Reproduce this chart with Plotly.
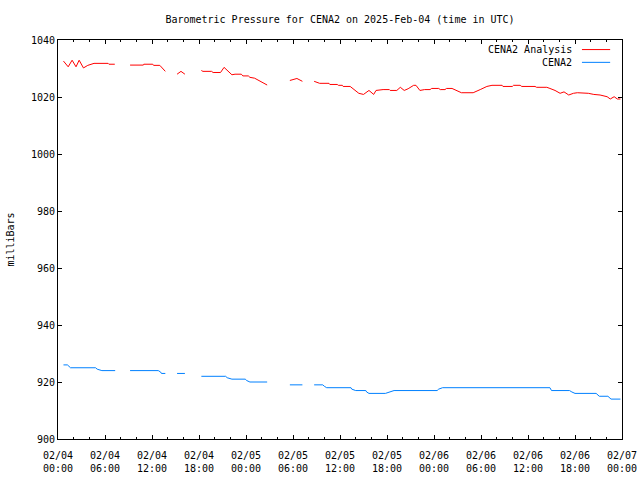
import plotly.graph_objects as go
import pandas as pd

# Hours after 2025-02-04 00:00 UTC; None in values breaks the line (missing data)
analysis_hours = [0.7, 1.3, 1.8, 2.3, 2.7, 3.25, 3.8, 4.5, 4.6, 6.4, 6.5, 7.25, 8.2,
                  9.2, 10.9, 10.95, 12.1, 12.2, 13.0, 13.7, 14.4,
                  15.2, 15.7, 16.2, 17.2,
                  18.3, 18.5, 19.6, 19.8, 20.75, 21.2, 22.2, 22.6, 23.4, 23.6, 24.3, 24.5, 25.1, 26.7, 28.0,
                  29.6, 30.5, 31.2, 32.0,
                  32.7, 33.0, 33.4, 34.6, 34.7, 35.65, 35.8, 36.3, 36.4, 37.3, 38.4, 39.0, 39.7, 40.3, 40.6,
                  41.5, 42.3, 42.4, 43.25, 43.7, 44.2, 44.7, 45.4, 45.7, 46.2, 46.8, 47.5, 47.7, 48.6, 48.8,
                  49.4, 49.6, 50.3, 51.5, 53.0, 53.9, 54.75, 55.4, 56.7, 56.8, 58.0, 58.15, 59.0, 59.2, 60.9,
                  61.1, 62.4, 62.8, 63.45, 64.1, 64.6, 65.2, 65.8, 66.3, 67.1, 67.7, 68.4, 69.2, 70.1, 70.5,
                  71.0, 71.4, 71.8]
analysis_values = [1032.6, 1030.6, 1032.9, 1030.6, 1032.9, 1030.2, 1031.1, 1031.6, 1031.8, 1031.8, 1031.5, 1031.5, None,
                   1031.2, 1031.2, 1031.5, 1031.5, 1031.1, 1031.1, 1029.0, None,
                   1028.0, 1029.0, 1028.0, None,
                   1029.3, 1029.0, 1029.0, 1028.6, 1028.6, 1030.4, 1027.8, 1028.0, 1028.0, 1027.4, 1027.4, 1026.9, 1026.6, 1024.2, None,
                   1025.8, 1026.5, 1025.5, None,
                   1025.5, 1025.1, 1024.8, 1024.8, 1024.4, 1024.4, 1024.1, 1024.1, 1023.7, 1023.7, 1021.3, 1020.9, 1022.3, 1020.9, 1022.3,
                   1022.6, 1022.6, 1022.3, 1022.3, 1023.4, 1022.3, 1022.9, 1024.1, 1024.1, 1022.3, 1022.6, 1022.6, 1023.0, 1023.0, 1022.6,
                   1022.6, 1023.0, 1023.0, 1021.5, 1021.5, 1022.6, 1023.7, 1024.1, 1024.1, 1023.7, 1023.7, 1024.1, 1024.1, 1023.7, 1023.7,
                   1023.4, 1023.4, 1023.0, 1022.3, 1021.3, 1021.8, 1020.7, 1021.3, 1021.5, 1021.5, 1021.3, 1020.9, 1020.7, 1020.1, 1019.3,
                   1020.1, 1019.3, 1019.3]

station_hours = [0.7, 1.2, 1.4, 1.6, 4.8, 5.0, 5.6, 7.3, 8.2,
                 9.2, 12.8, 13.1, 13.2, 13.7, 14.4,
                 15.2, 16.2, 17.2,
                 18.3, 21.4, 21.6, 22.2, 23.9, 24.1, 24.5, 26.7, 28.0,
                 29.6, 31.2, 32.0,
                 32.7, 33.8, 34.0, 34.3, 37.4, 37.5, 38.0, 39.3, 39.4, 39.7, 41.8, 42.3, 42.9, 48.4, 48.6, 49.1,
                 62.8, 63.0, 65.3, 65.6, 66.0, 68.7, 68.9, 69.1, 70.2, 70.4, 70.6, 71.8]
station_values = [926, 926, 925.5, 925, 925, 924.5, 924, 924, None,
                  924, 924, 923.5, 923, 923, None,
                  923, 923, None,
                  922, 922, 921.5, 921, 921, 920.5, 920, 920, None,
                  919, 919, None,
                  919, 919, 918.5, 918, 918, 917.5, 917, 917, 916.5, 916, 916, 916.5, 917, 917, 917.5, 918,
                  918, 917, 917, 916.5, 916, 916, 915.5, 915, 915, 914.5, 914, 914]

y_ticks = [900, 920, 940, 960, 980, 1000, 1020, 1040]
series_names = ["CENA2 Analysis", "CENA2"]
series_colors = ["#ff0000", "#0080ff"]

start = pd.Timestamp("2025-02-04 00:00")
def to_time(hours):
    return [start + pd.Timedelta(hours=h) for h in hours]

FONT = "DejaVu Sans Mono"

fig = go.Figure()
fig.add_trace(go.Scatter(x=to_time(analysis_hours), y=analysis_values, mode="lines",
                         name=series_names[0], line=dict(color=series_colors[0], width=1),
                         connectgaps=False))
fig.add_trace(go.Scatter(x=to_time(station_hours), y=station_values, mode="lines",
                         name=series_names[1], line=dict(color=series_colors[1], width=1),
                         connectgaps=False))

fig.update_layout(
    width=640, height=480,
    margin=dict(l=58, r=18, t=40, b=41),
    paper_bgcolor="white", plot_bgcolor="white",
    showlegend=False,
    font=dict(family=FONT, size=10, color="black"),
    title=dict(text="Barometric Pressure for CENA2 on 2025-Feb-04 (time in UTC)",
               x=0.5, xref="paper", y=1 - 19 / 480, yanchor="middle",
               font=dict(family=FONT, size=10, color="black")),
    xaxis=dict(
        type="date",
        range=[start, start + pd.Timedelta(hours=72)],
        tick0=start, dtick=6 * 3600 * 1000,
        tickformat="%m/%d<br>%H:%M",
        ticks="inside", ticklen=4, tickcolor="black",
        ticklabelstandoff=7,
        minor=dict(dtick=2 * 3600 * 1000, ticks="inside", ticklen=2, tickcolor="black", showgrid=False),
        showline=True, linecolor="black", linewidth=1, mirror="ticks",
        showgrid=False, zeroline=False, automargin=False,
        tickfont=dict(family=FONT, size=10),
    ),
    yaxis=dict(
        range=[900, 1040],
        tickvals=y_ticks,
        ticks="inside", ticklen=4, tickcolor="black",
        showline=True, linecolor="black", linewidth=1, mirror="ticks",
        showgrid=False, zeroline=False, automargin=False,
        title=dict(text="milliBars", font=dict(family=FONT, size=10), standoff=14),
        tickfont=dict(family=FONT, size=10),
    ),
)

# gnuplot-style legend: text on the left, line sample on the right
legend_rows = [0.976, 0.944]
for name, color, yrow in zip(series_names, series_colors, legend_rows):
    fig.add_annotation(text=name, xref="paper", yref="paper", x=0.915, y=yrow,
                       xanchor="right", yanchor="middle", showarrow=False,
                       font=dict(family=FONT, size=10, color="black"))
    fig.add_shape(type="line", xref="paper", yref="paper", x0=0.929, x1=0.979, y0=yrow, y1=yrow,
                  line=dict(color=color, width=1))

fig.write_html("out.html", config={"displayModeBar": False},
               post_script="document.body.style.margin='0';document.body.style.overflow='hidden';")
